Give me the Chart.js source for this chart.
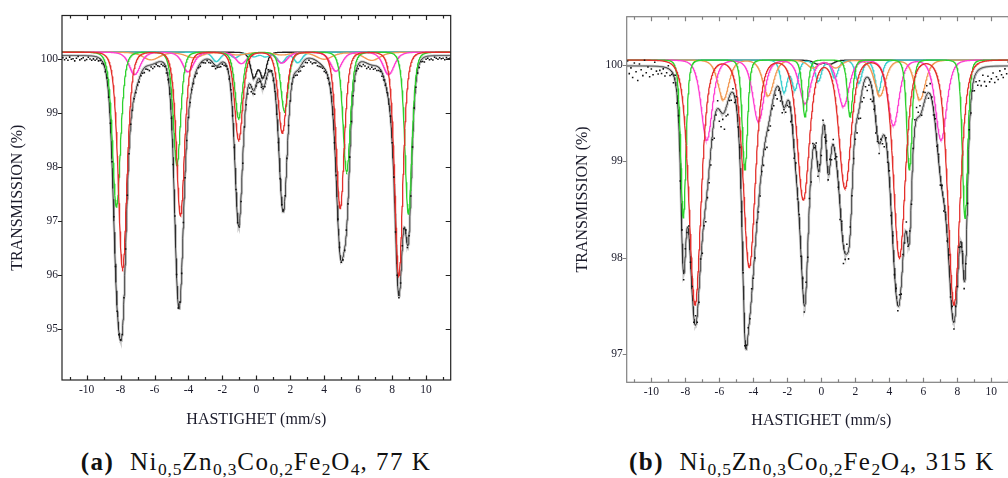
<!DOCTYPE html>
<html>
<head>
<meta charset="utf-8">
<script src="https://cdn.jsdelivr.net/npm/chart.js@4.4.0/dist/chart.umd.min.js"></script>
<style>
body{margin:0;background:#fff;width:1008px;height:478px;overflow:hidden;position:relative;font-family:'Liberation Serif',serif;}
.caja{position:absolute;top:0;width:480px;height:440px;}
.cap{position:absolute;top:449px;font-size:25px;line-height:26px;letter-spacing:1.5px;white-space:nowrap;color:#111;}
.cap sub{font-size:17.5px;vertical-align:-5px;line-height:0;letter-spacing:0.8px;}
</style>
</head>
<body>
<div class="caja" style="left:0"><canvas id="grafico77"></canvas></div>
<div class="caja" style="left:560px"><canvas id="grafico315"></canvas></div>
<div class="cap" style="left:256px;transform:translateX(-50%)"><b>(a)</b>&nbsp; Ni<sub>0,5</sub>Zn<sub>0,3</sub>Co<sub>0,2</sub>Fe<sub>2</sub>O<sub>4</sub>, 77 K</div>
<div class="cap" style="left:629px"><b>(b)</b>&nbsp; Ni<sub>0,5</sub>Zn<sub>0,3</sub>Co<sub>0,2</sub>Fe<sub>2</sub>O<sub>4</sub>, 315 K</div>
<script>
// ejes comunes
const velMin = -11.45, velMax = 11.45;
const xTickValues = [-10, -8, -6, -4, -2, 0, 2, 4, 6, 8, 10];
const xMinorValues = [-11, -9, -7, -5, -3, -1, 1, 3, 5, 7, 9, 11];
// canales medidos
const chanStart = -11.4, chanStep = 0.1, chanCount = 229;

// ---- 77 K ----
const yTicks77 = [95, 96, 97, 98, 99, 100];
const base77 = 100.12, fitDrop77 = 0.06;
const red77Pos = [-7.88, -4.47, -1.04, 1.53, 4.94, 8.39];
const red77Depth = [4.01, 3.03, 1.63, 1.5, 2.9, 4.15];
const red77Width = [0.3, 0.28, 0.28, 0.28, 0.28, 0.28];
const green77Pos = [-8.24, -4.68, -1.04, 1.66, 5.32, 8.96];
const green77Depth = [2.87, 2.1, 1.23, 1.1, 2.22, 3.0];
const green77Width = [0.28, 0.25, 0.25, 0.25, 0.25, 0.24];
const magenta77Pos = [-7.16, -4.02, -0.88, 1.51, 4.7, 7.8];
const magenta77Depth = [0.41, 0.36, 0.21, 0.2, 0.35, 0.41];
const magenta77Width = 0.38;
const orange77Pos = [-6.2, -3.7, -1.1, 1.5, 4.0, 6.8];
const orange77Depth = [0.14, 0.1, 0.05, 0.05, 0.13, 0.15];
const orange77Width = 0.55;
const cyan77Pos = [-2.35, -1.25, -0.15, 0.55, 1.47, 2.45];
const cyan77Depth = [0.17, 0.1, 0.08, 0.08, 0.19, 0.19];
const cyan77Width = 0.28;
const black77Pos = [-0.15, 0.4];
const black77Depth = [0.45, 0.45];
const black77Width = 0.22;
// desviaciones de los puntos medidos respecto al ajuste (centesimas de %)
const res77 = [-4,-8,-5,-9,-3,-7,-6,-10,-5,-2,-8,-6,-4,-9,-7,-3,-6,-8,-5,-7,-4,-6,
  -3,-5,-1,-4,2,-3,-1, 3,-2,4,-5,-6,2,-3,4,-2, -2,-4,-1,-6,-3,-5,-2,-7,-4,
  -6,-9,-5,-7,-10,-4,-8,-6,-3,-7,-9,-5,-6,-4,-8,-5, -3,2,-4,5,-2,-5,3,-3,1,-4,-2,
  -4,-6,-3,-7,-5,-8,-4,-6,-2,-5,-7,-3,-6,-5,-8,-4,-6,-3,-5,-7,-4,-6, -3,-1,-4,2,-3,1,-2,-5,
  -6,-8,-10,-7,-9,-12,-8,-10,-6,-9,-5,-7,-4,-6, -3,-5,-2,4,-3,2,-4,-1,-5,-3,-6,
  -2,3,-4,1,-3,-5,-2,-4, -6,-8,-5,-9,-7,-10,-6,-8,-4,-7,-9,-6,-5,-8,-7,-5,
  -4,-6,-3,-5,-2,3,-4,-6,2,-3,4,-2,-5,-3, 6,-4,3,-3,
  -5,-7,-4,-8,-6,-9,-5,-7,-10,-6,-8,-4,-7,-5,-8,-6,-4,-7,-5,-3,
  -2,-4,1,-3,4,-5,2,-3,-6,3,-2,5,-4,-2,-5,
  -6,-4,-8,-5,-7,-3,-6,-9,-5,-4,-7,-6,-8,-3,-5,-7,-4,-6,-5,-8,-4,-6,-5];

// ---- 315 K ----
const yTicks315 = [97, 98, 99, 100];
const base315 = 100.05, fitDrop315 = 0.06;
const red315Pos = [-7.43, -4.24, -1.06, 1.39, 4.59, 7.8];
const red315Depth = [2.54, 2.15, 1.45, 1.33, 2.05, 2.54];
const red315Width = 0.41;
const green315Pos = [-8.12, -4.5, -0.96, 1.69, 5.18, 8.45];
const green315Depth = [1.64, 1.14, 0.59, 0.59, 1.14, 1.64];
const green315Width = 0.18;
const magenta315Pos = [-6.74, -3.7, -0.96, 1.3, 4.24, 7.04];
const magenta315Depth = [0.83, 0.64, 0.45, 0.48, 0.68, 0.83];
const magenta315Width = 0.38;
const orange315Pos = [-5.76, -3.12, -0.5, 0.85, 3.45, 5.8];
const orange315Depth = [0.41, 0.37, 0.08, 0.08, 0.37, 0.41];
const orange315Width = 0.37;
const cyan315Pos = [-2.2, -1.55, -0.18, 0.8, 2.2, 3.35];
const cyan315Depth = [0.33, 0.3, 0.22, 0.18, 0.24, 0.33];
const cyan315Width = 0.22;
const black315Pos = [-0.2, 0.5];
const black315Depth = [0.04, 0.04];
const black315Width = 0.3;
// parte central del ajuste total
const centre315Pos = [-0.12, 0.41];
const centre315Depth = [0.6, 0.85];
const centre315Width = 0.18;
const res315 = [5,-8,-2,-12,3,-6,-15,2,-4,-10,6,-7,-1,-11,-3,-9,4,-5,-8,
  -4,-7,-2,-9,-5,3,-6,-3, -8,6,-10,4,-12,8,-6,5,-4,7,-3,
  6,-5,10,-8,-12,4,-15,-6,-18,-10,-14, -16,-8,-20,-4,8,-12,-15,-6,-18,-9,-14,-5,
  -8,4,-6,10,-3,8,-5,6,-9,3, 5,-4,7,-6,-10,3,-8,-12,-5,-14,
  -9,-16,-7,-12,-4,-10,-6,-13,-3,-8,-11,-2,-7,-5, -6,-12,3,-8,10,-5,6,-4,8,
  -6,9,-10,5,-12,7,-4,10,-8,4,-10, 6,-9,12,-6,8,-11,5,-7,9,-4,
  -14,8,-18,-6,10,-9,5,-3, -5,-10,-15,-8,-18,-12,-16,-9,-14,-7,-17,-11,-6,-13,
  -5,-10,2,-8,-12,4,-6,9,-7,5,-4, 6,-5,8,-10,4,-7,10,-3,7,-9,3,
  8,12,5,10,-4,14,7,9,-6,11,3,-5,6, -4,7,-8,5,-10,3,-6,8,-5,9,-7,4,-3,8,-6,
  4,-8,-3,-10,5,-12,-6,-14,-9,-15,
  -12,-18,-8,-15,-20,-10,-16,-13,-7,-17,-11,-14,-5,-9,-12,-3,-8,4,-6,2,-4,3];

// perfil de linea (lorentziana al cubo, ancho = semiancho a media altura)
function absorcion(v, pos, depth, width) {
  let s = 0;
  for (let k = 0; k < pos.length; k++) {
    const w = Array.isArray(width) ? width[k] : width;
    const u = (v - pos[k]) / (w / 0.5098);
    s += depth[k] / Math.pow(1 + u * u, 3);
  }
  return s;
}

const fineGrid = [];
for (let v = velMin; v <= velMax + 1e-9; v += 0.02) fineGrid.push(+v.toFixed(3));
const channels = [];
for (let i = 0; i < chanCount; i++) channels.push(+(chanStart + i * chanStep).toFixed(2));

function curva(base, comp) {
  return fineGrid.map(v => ({ x: v, y: base - absorcion(v, comp.pos, comp.depth, comp.width) }));
}

function crearPanel(id, cfg) {
  const totalAt = v => {
    let s = cfg.base - cfg.drop;
    cfg.comps.concat(cfg.hidden || []).forEach(c => { s -= absorcion(v, c.pos, c.depth, c.width); });
    return s;
  };
  const ajuste = fineGrid.map(v => ({ x: v, y: totalAt(v) }));
  const puntos = channels.map((v, i) => ({ x: v, y: totalAt(v) + cfg.res[i] / 100 }));

  const datasets = [{
    data: puntos, showLine: false, pointStyle: 'rect', pointRadius: 1.1,
    pointBackgroundColor: '#111', pointBorderWidth: 0, order: 0
  }];
  cfg.comps.forEach(c => datasets.push({
    data: curva(cfg.base, c), borderColor: c.color, borderWidth: 1.3,
    pointRadius: 0, tension: 0, order: 1
  }));
  datasets.push({ data: ajuste, borderColor: '#2a2a2a', borderWidth: 0.8, pointRadius: 0, order: 2 });
  datasets.push({ data: ajuste, borderColor: 'rgba(150,150,150,0.5)', borderWidth: 2.6, pointRadius: 0, order: 3 });

  const serif = { family: "'Liberation Serif', serif" };
  const marco = {
    id: 'marco',
    afterDatasetsDraw(chart) {
      const { ctx, chartArea: a, scales: { x, y } } = chart;
      ctx.save();
      ctx.strokeStyle = cfg.frame;
      ctx.lineWidth = 1.2;
      ctx.strokeRect(a.left, a.top, a.right - a.left, a.bottom - a.top);
      ctx.beginPath();
      xTickValues.forEach(v => {
        const px = Math.round(x.getPixelForValue(v)) + 0.5;
        ctx.moveTo(px, a.bottom); ctx.lineTo(px, a.bottom - 4.5);
        ctx.moveTo(px, a.top); ctx.lineTo(px, a.top + 4.5);
      });
      xMinorValues.forEach(v => {
        const px = Math.round(x.getPixelForValue(v)) + 0.5;
        ctx.moveTo(px, a.bottom); ctx.lineTo(px, a.bottom - 3);
        ctx.moveTo(px, a.top); ctx.lineTo(px, a.top + 3);
      });
      cfg.yTicks.forEach(v => {
        const py = Math.round(y.getPixelForValue(v)) + 0.5;
        ctx.moveTo(a.left - 4, py); ctx.lineTo(a.left, py);
        ctx.moveTo(a.right, py); ctx.lineTo(a.right - 5, py);
      });
      ctx.stroke();
      ctx.restore();
    }
  };

  new Chart(document.getElementById(id), {
    type: 'line',
    data: { datasets },
    plugins: [marco],
    options: {
      responsive: true, maintainAspectRatio: false, animation: false,
      layout: { padding: { left: 0, right: cfg.padRight, top: cfg.padTop, bottom: 0 } },
      plugins: { legend: { display: false }, tooltip: { enabled: false } },
      scales: {
        x: {
          type: 'linear', min: velMin, max: velMax,
          afterBuildTicks: s => { s.ticks = xTickValues.map(v => ({ value: v })); },
          afterFit: s => { s.height = cfg.xHeight; },
          ticks: { font: { ...serif, size: 11.5 }, color: '#1a1a2a', padding: 3, maxRotation: 0, autoSkip: false },
          grid: { display: false, drawTicks: false }, border: { display: false },
          title: { display: true, text: 'HASTIGHET (mm/s)', color: '#1a1a2a',
            font: { ...serif, size: 16 }, padding: { top: 0, bottom: cfg.xTitlePad } }
        },
        y: {
          type: 'linear', min: cfg.yMin, max: cfg.yMax,
          afterBuildTicks: s => { s.ticks = cfg.yTicks.map(v => ({ value: v })); },
          afterFit: s => { s.width = cfg.yWidth; },
          ticks: { font: { ...serif, size: 11.5 }, color: '#1a1a2a', padding: 4 },
          grid: { display: false, drawTicks: false }, border: { display: false },
          title: { display: true, text: 'TRANSMISSION (%)', color: '#1a1a2a',
            font: { ...serif, size: 16 }, padding: { top: cfg.yTitlePad, bottom: 0 } }
        }
      }
    }
  });
}

crearPanel('grafico77', {
  base: base77, drop: fitDrop77, res: res77, yTicks: yTicks77,
  yMin: 94.05, yMax: 100.8, frame: '#222',
  padRight: 29.3, padTop: 15.5, xHeight: 60, yWidth: 62, xTitlePad: 10.4, yTitlePad: 8.4,
  comps: [
    { pos: red77Pos, depth: red77Depth, width: red77Width, color: '#e4302c' },
    { pos: green77Pos, depth: green77Depth, width: green77Width, color: '#2ed12e' },
    { pos: magenta77Pos, depth: magenta77Depth, width: magenta77Width, color: '#ff3fd2' },
    { pos: orange77Pos, depth: orange77Depth, width: orange77Width, color: '#f29a55' },
    { pos: cyan77Pos, depth: cyan77Depth, width: cyan77Width, color: '#3cd0d0' },
    { pos: black77Pos, depth: black77Depth, width: black77Width, color: '#222' }
  ]
});

crearPanel('grafico315', {
  base: base315, drop: fitDrop315, res: res315, yTicks: yTicks315,
  yMin: 96.71, yMax: 100.5, frame: '#808080',
  padRight: 24, padTop: 16.7, xHeight: 57.7, yWidth: 66.7, xTitlePad: 9.4, yTitlePad: 13.4,
  comps: [
    { pos: red315Pos, depth: red315Depth, width: red315Width, color: '#e4302c' },
    { pos: green315Pos, depth: green315Depth, width: green315Width, color: '#2ed12e' },
    { pos: magenta315Pos, depth: magenta315Depth, width: magenta315Width, color: '#ff3fd2' },
    { pos: orange315Pos, depth: orange315Depth, width: orange315Width, color: '#f29a55' },
    { pos: cyan315Pos, depth: cyan315Depth, width: cyan315Width, color: '#3cd0d0' },
    { pos: black315Pos, depth: black315Depth, width: black315Width, color: '#222' }
  ],
  hidden: [{ pos: centre315Pos, depth: centre315Depth, width: centre315Width }]
});
</script>
</body>
</html>
